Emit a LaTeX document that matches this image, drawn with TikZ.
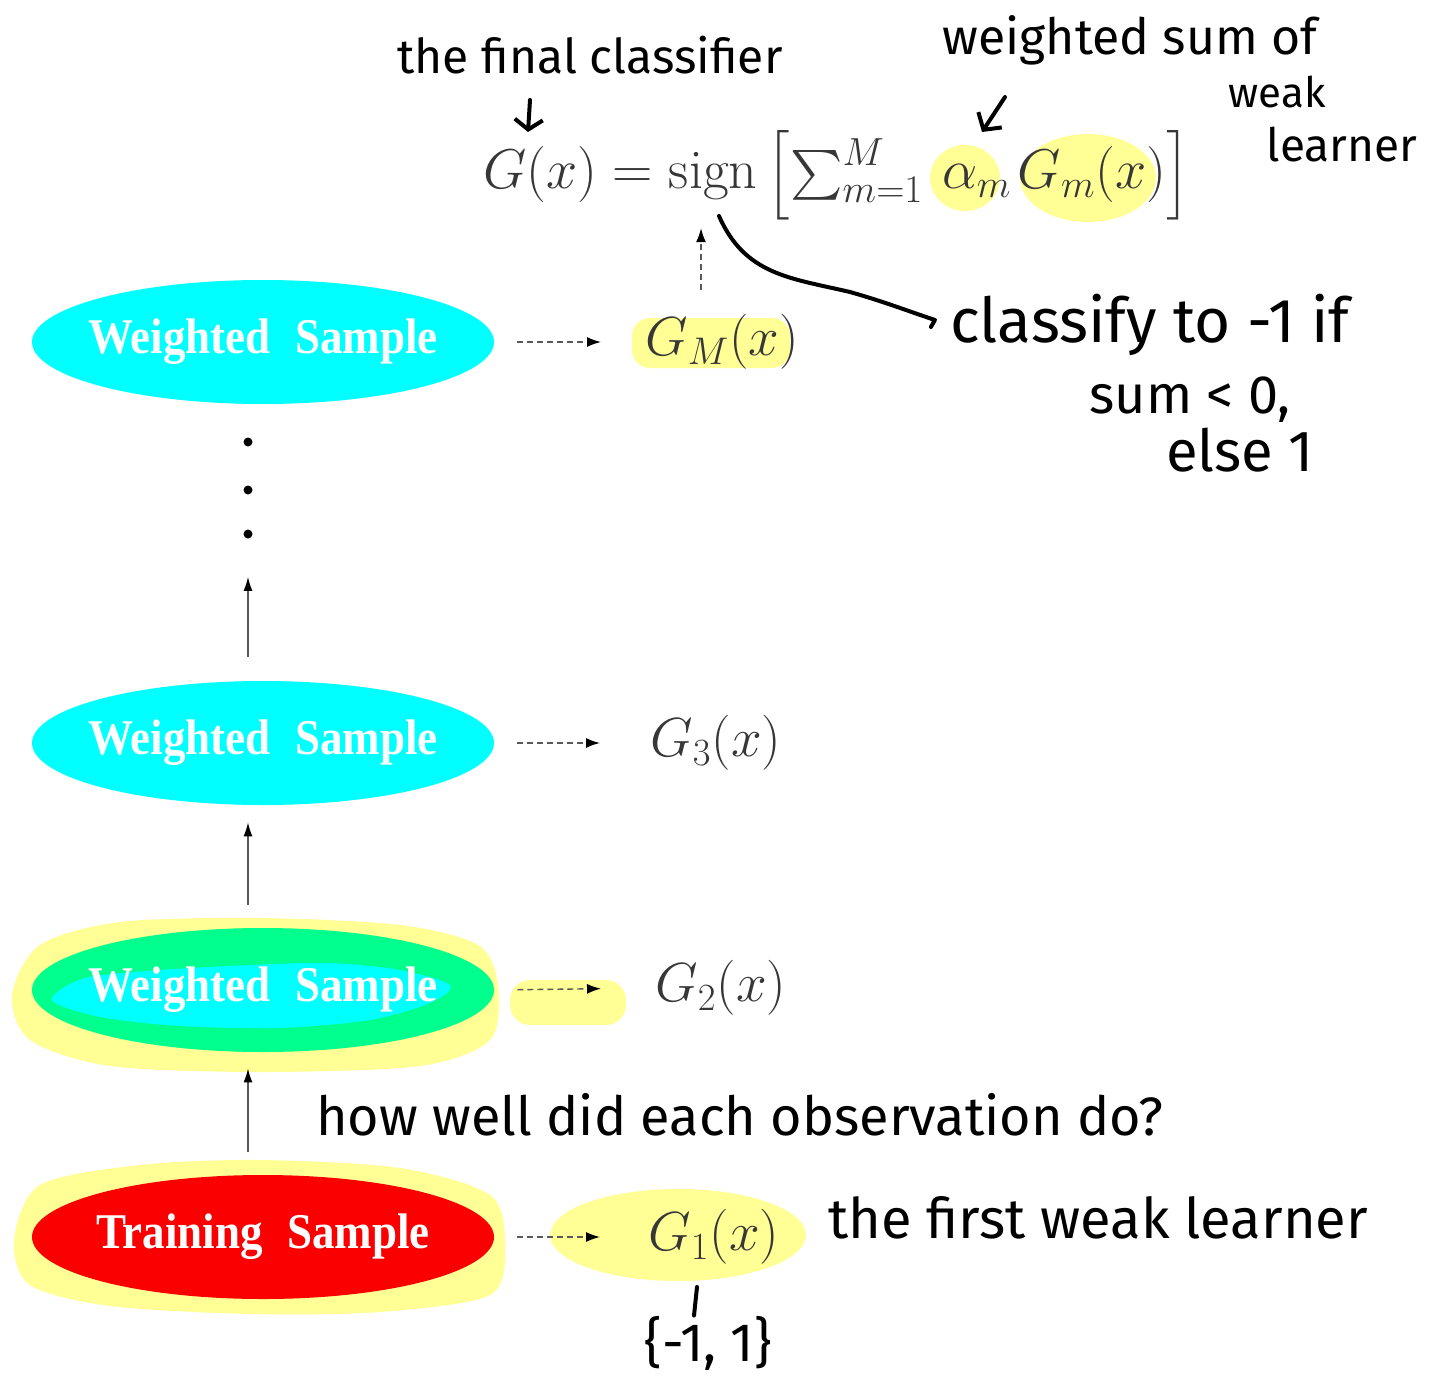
\RequirePackage{fix-cm}
\documentclass[tikz,border=0pt]{standalone}
\usepackage{amsmath}
\usepackage{graphicx}
\usepackage{fontspec}
\usetikzlibrary{arrows.meta,calc,shapes.geometric}
\newfontfamily\hwfont{Fira Sans}
\newfontfamily\serifb{Liberation Serif}
\definecolor{hl}{RGB}{255,255,150}
\definecolor{cyanfill}{RGB}{0,255,255}
\definecolor{greenfill}{RGB}{0,255,140}
\definecolor{redfill}{RGB}{250,0,0}
\definecolor{mathgray}{RGB}{55,55,55}
\newcommand{\hws}[1]{\hwfont\fontsize{#1}{#1}\selectfont}
\newcommand{\sampletext}[2]{\makebox[0pt]{\scalebox{0.9}[1]{#1\hspace{0.55em}#2}}}
\tikzset{
  sample/.style={ellipse, minimum width=231pt, minimum height=62pt, inner sep=0pt,
    text=white, font=\serifb\bfseries\fontsize{25}{25}\selectfont},
  glab/.style={inner sep=0pt, anchor=west, text=mathgray, font=\fontsize{27.5}{27.5}\selectfont},
  vup/.style={draw=black!65, line width=0.7pt, -{Latex[length=7pt,width=4.5pt,color=black]}},
  dasharr/.style={draw=black!65, line width=0.7pt, dash pattern=on 3pt off 2pt,
    -{Latex[length=7pt,width=5pt,color=black]}},
  hw/.style={inner sep=0pt, text=black},
  hand/.style={line width=2pt, line cap=round, line join=round, draw=black},
  dot/.style={circle, fill=black, inner sep=0pt, minimum size=4.5pt}
}
\begin{document}
\begin{tikzpicture}[x=0.5pt,y=-0.5pt]
\useasboundingbox[fill=white] (0,0) rectangle (1439,1380);

% yellow highlights
\fill[hl] (965,178) ellipse[x radius=35, y radius=33];
\fill[hl] (1088,178) ellipse[x radius=68, y radius=44];
\fill[hl, rounded corners=9pt] (632,318) rectangle (790,368);
\fill[hl] plot[smooth cycle] coordinates {(12,995) (40,945) (120,922) (260,918) (400,925) (478,945) (498,985) (490,1040) (420,1066) (260,1072) (110,1066) (30,1040)};
\fill[hl, rounded corners=10pt] (510,980) rectangle (626,1025);
\fill[hl] plot[smooth cycle] coordinates {(14,1240) (40,1185) (140,1165) (260,1160) (400,1168) (490,1195) (505,1245) (490,1295) (380,1312) (250,1314) (110,1306) (30,1285)};
\fill[hl] (678,1235) ellipse[x radius=128, y radius=46];

% highlighted sample: green ring with unhighlighted cyan core
\fill[greenfill] (263,990) ellipse[x radius=231, y radius=62];
\fill[cyanfill] plot[smooth cycle] coordinates {(52,1000) (85,978) (160,970) (250,965) (330,963) (400,970) (450,985) (430,1003) (370,1020) (280,1028) (180,1026) (100,1017)};

% samples
\node[sample, fill=redfill] (ts) at (263,1237) {\sampletext{Training}{Sample}};
\node[sample] (w2) at (263,990) {\sampletext{Weighted}{Sample}};
\node[sample, fill=cyanfill] (w3) at (263,743) {\sampletext{Weighted}{Sample}};
\node[sample, fill=cyanfill] (wM) at (263,342) {\sampletext{Weighted}{Sample}};

% dots
\node[dot] (d1) at (248,442) {};
\node[dot] (d2) at (248,490) {};
\node[dot] (d3) at (248,534) {};

% weak learners
\node[glab] (g1) at (648,1237) {$G_1(x)$};
\node[glab] (g2) at (655,988) {$G_2(x)$};
\node[glab] (g3) at (650,743) {$G_3(x)$};
\node[glab] (gM) at (645,342) {$G_M(x)$};

% final classifier
\node[glab, font=\fontsize{28}{28}\selectfont] (F) at (483,175) {$G(x) = \operatorname{sign}\left[\sum_{m=1}^{M}\,\alpha_m\mkern2mu G_m(x)\right]$};

% vertical arrows
\draw[vup] ($(ts.north)+(-15,-23)$) -- ($(w2.south)+(-15,16)$);
\draw[vup] ($(w2.north)+(-15,-23)$) -- ($(w3.south)+(-15,17)$);
\draw[vup] ($(w3.north)+(-15,-24)$) -- ($(d3.south)+(0,38)$);

% dashed arrows
\draw[dasharr, shorten <=11.5pt, shorten >=24pt] (ts.east) -- (g1.west);
\draw[dasharr, shorten <=11.5pt, shorten >=27pt] (w2.east) -- (g2.west);
\draw[dasharr, shorten <=11.5pt, shorten >=25pt] (w3.east) -- (g3.west);
\draw[dasharr, shorten <=11.5pt, shorten >=22pt] (wM.east) -- (gM.west);
\coordinate (vx) at (701,0);
\draw[dasharr, shorten <=12pt, shorten >=4pt] (vx |- gM.north) -- (vx |- F.south);

% handwritten notes
\node[hw, font=\hws{24}] (nfinal) at (590,55) {the final classifier};
\node[hw, font=\hws{25}] (nws) at (1130,40) {weighted sum of};
\node[hw, font=\hws{21}] (nweak) at (1277,92) {weak};
\node[hw, font=\hws{23}] (nlearn) at (1342,145) {learner};
\node[hw, font=\hws{31}] (ncl) at (1150,325) {classify to -1 if};
\node[hw, font=\hws{27}] (nsum) at (1190,400) {sum < 0,};
\node[hw, font=\hws{29}] (nelse) at (1240,450) {else 1};
\node[hw, font=\hws{27}] (nhow) at (740,1115) {how well did each observation do?};
\node[hw, font=\hws{28}] (nfirst) at (1098,1218) {the first weak learner};
\node[hw, font=\hws{27}] (nset) at (708,1343) {\{-1, 1\}};

% handwritten strokes
\coordinate (fa1) at (530,100);
\coordinate (fa2) at (528,132);
\draw[hand, -{Straight Barb[length=5pt,width=14pt]}] (fa1) -- (fa2);
\coordinate (wa1) at (1005,97);
\coordinate (wa2) at (982,132);
\draw[hand, -{Straight Barb[length=6pt,width=14pt]}] (wa1) -- (wa2);
\coordinate (cs) at (719,216);
\draw[hand] (cs) .. controls (745,275) and (790,278) .. (850,292)
  .. controls (885,302) and (905,310) .. ($(ncl.west)+(-15,-5)$) -- ($(ncl.west)+(-19,2)$);
\coordinate (tk1) at (697,1287);
\draw[hand] (tk1) -- (nset.north -| 694,0);
\end{tikzpicture}
\end{document}
